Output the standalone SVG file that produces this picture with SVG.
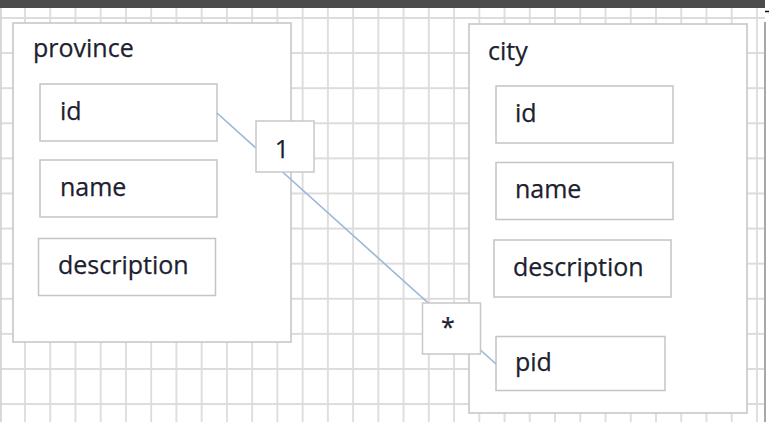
<svg xmlns="http://www.w3.org/2000/svg" width="769" height="422" viewBox="0 0 769 422">
  <defs>
    <pattern id="grid" x="0" y="0" width="25.24" height="35.1" patternUnits="userSpaceOnUse" patternTransform="translate(24 17)">
      <path d="M1 0 V35.1 M0 1 H25.24" fill="none" stroke="#dcdcdc" stroke-width="1.8"/>
    </pattern>
  </defs>
  <style>
    .box { fill: #ffffff; stroke: #c4c4c4; stroke-width: 1.5; }
    .field { fill: #ffffff; stroke: #c4c4c4; stroke-width: 1.5; }
    .lbl { fill: #ffffff; stroke: #c8c8c8; stroke-width: 1.5; }
    .t { font-family: "Open Sans", "Liberation Sans", sans-serif; font-size: 25px; fill: #1c2130; stroke: #1c2130; stroke-width: 0.25; }
    .conn { stroke: #9db6d8; stroke-width: 1.6; fill: none; }
  </style>
  <rect x="0" y="0" width="769" height="422" fill="#ffffff"/>
  <rect x="0" y="8" width="765" height="414" fill="url(#grid)"/>
  <rect x="0" y="0" width="765" height="8" fill="#4b4b4b"/>
  <line x1="1" y1="8" x2="1" y2="422" stroke="#d0d0d0" stroke-width="1.5"/>
  <line x1="765" y1="22" x2="765" y2="422" stroke="#a8a8a8" stroke-width="2"/>
  <line x1="765" y1="11.5" x2="769" y2="11.5" stroke="#111111" stroke-width="1.5"/>

  <g id="province">
    <rect class="box" x="13" y="23" width="278" height="319"/>
    <text class="t" x="33" y="57">province</text>
    <g id="province-id">
      <rect class="field" x="40" y="84" width="177" height="57"/>
      <text class="t" x="60" y="120">id</text>
    </g>
    <g id="province-name">
      <rect class="field" x="40" y="160" width="177" height="57"/>
      <text class="t" x="60" y="196">name</text>
    </g>
    <g id="province-description">
      <rect class="field" x="38.5" y="238.5" width="177" height="57"/>
      <text class="t" x="58" y="274">description</text>
    </g>
  </g>

  <g id="city">
    <rect class="box" x="469" y="24" width="278" height="389"/>
    <text class="t" x="488" y="60">city</text>
    <g id="city-id">
      <rect class="field" x="496" y="86" width="177" height="57"/>
      <text class="t" x="515" y="122">id</text>
    </g>
    <g id="city-name">
      <rect class="field" x="496" y="162.5" width="177" height="57"/>
      <text class="t" x="515" y="198">name</text>
    </g>
    <g id="city-description">
      <rect class="field" x="494" y="240" width="177" height="57"/>
      <text class="t" x="513" y="276">description</text>
    </g>
    <g id="city-pid">
      <rect class="field" x="496" y="336.5" width="169" height="54"/>
      <text class="t" x="515" y="371">pid</text>
    </g>
  </g>

  <g id="connectors">
    <line class="conn" x1="217" y1="113" x2="496" y2="364"/>
  </g>

  <g id="label-one">
    <rect class="lbl" x="256" y="121" width="58" height="51"/>
    <text class="t" x="282" y="158" text-anchor="middle" font-size="23">1</text>
  </g>
  <g id="label-many">
    <rect class="lbl" x="422.5" y="303" width="58" height="51"/>
    <text class="t" x="448" y="336" text-anchor="middle" font-size="18">*</text>
  </g>
</svg>
